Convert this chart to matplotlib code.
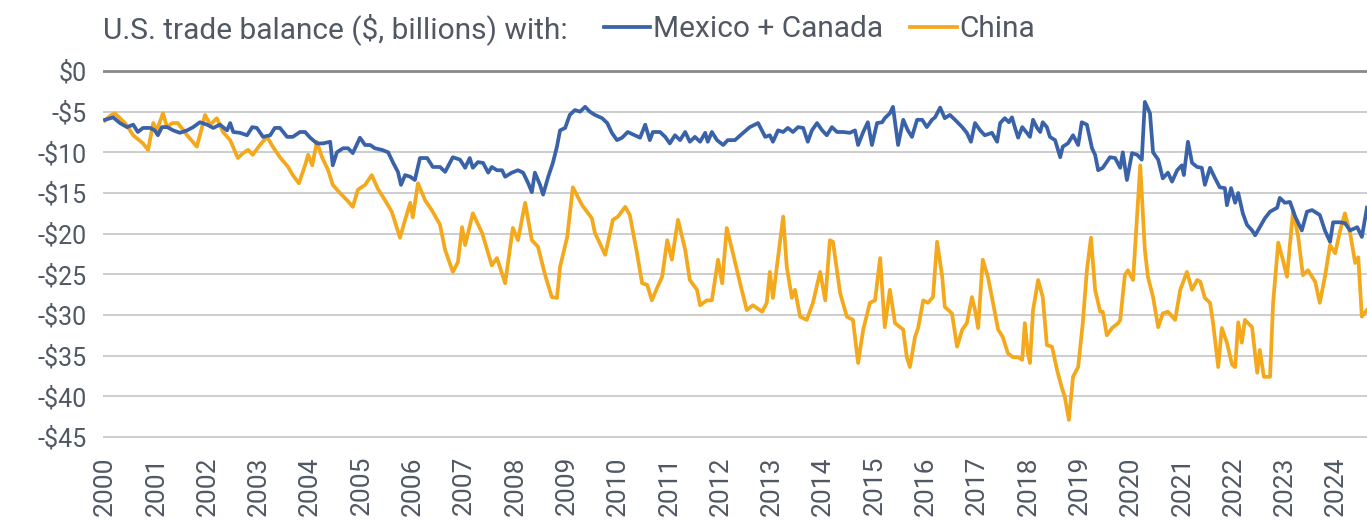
import matplotlib
matplotlib.use("Agg")
import matplotlib.pyplot as plt
from matplotlib import font_manager

# ---------------- data ----------------
china_t = [2000.00, 2000.10, 2000.19, 2000.39, 2000.55, 2000.74, 2000.84, 2000.94, 2001.01, 2001.13,
           2001.21, 2001.31, 2001.42, 2001.60, 2001.79, 2001.85, 2001.95, 2002.05, 2002.18, 2002.30,
           2002.44, 2002.59, 2002.69, 2002.79, 2002.88, 2003.02, 2003.16, 2003.27, 2003.41, 2003.57,
           2003.66, 2003.78, 2003.90, 2003.96, 2004.04, 2004.13, 2004.23, 2004.35, 2004.44, 2004.58,
           2004.72, 2004.83, 2004.93, 2005.07, 2005.20, 2005.32, 2005.46, 2005.59, 2005.75, 2005.85,
           2005.95, 2006.00, 2006.10, 2006.24, 2006.37, 2006.53, 2006.63, 2006.78, 2006.88, 2006.96,
           2007.02, 2007.17, 2007.35, 2007.54, 2007.64, 2007.80, 2007.95, 2008.05, 2008.19, 2008.32,
           2008.44, 2008.58, 2008.71, 2008.81, 2008.87, 2009.01, 2009.12, 2009.30, 2009.49, 2009.55,
           2009.75, 2009.90, 2010.00, 2010.14, 2010.23, 2010.37, 2010.47, 2010.57, 2010.66, 2010.76,
           2010.86, 2010.96, 2011.05, 2011.17, 2011.31, 2011.40, 2011.54, 2011.60, 2011.73, 2011.83,
           2011.95, 2012.03, 2012.12, 2012.24, 2012.38, 2012.51, 2012.63, 2012.81, 2012.90, 2012.96,
           2013.02, 2013.22, 2013.29, 2013.39, 2013.45, 2013.55, 2013.68, 2013.80, 2013.94, 2014.04,
           2014.13, 2014.19, 2014.33, 2014.46, 2014.58, 2014.68, 2014.78, 2014.91, 2015.01, 2015.11,
           2015.20, 2015.30, 2015.40, 2015.56, 2015.63, 2015.69, 2015.79, 2015.85, 2015.95, 2016.04,
           2016.14, 2016.22, 2016.32, 2016.37, 2016.51, 2016.61, 2016.71, 2016.80, 2016.90, 2016.96,
           2017.02, 2017.11, 2017.21, 2017.31, 2017.41, 2017.50, 2017.60, 2017.70, 2017.80, 2017.88,
           2017.93, 2017.99, 2018.03, 2018.09, 2018.19, 2018.28, 2018.36, 2018.46, 2018.56, 2018.65,
           2018.71, 2018.79, 2018.87, 2018.97, 2019.06, 2019.14, 2019.22, 2019.30, 2019.40, 2019.45,
           2019.53, 2019.63, 2019.75, 2019.79, 2019.88, 2019.94, 2020.04, 2020.18, 2020.27, 2020.33,
           2020.43, 2020.53, 2020.62, 2020.72, 2020.86, 2020.96, 2021.09, 2021.19, 2021.29, 2021.35,
           2021.44, 2021.54, 2021.60, 2021.70, 2021.77, 2021.87, 2021.97, 2022.03, 2022.09, 2022.16,
           2022.22, 2022.36, 2022.46, 2022.51, 2022.59, 2022.71, 2022.77, 2022.87, 2022.96, 2023.04,
           2023.16, 2023.26, 2023.35, 2023.45, 2023.59, 2023.68, 2023.78, 2023.88, 2023.98, 2024.07,
           2024.17, 2024.27, 2024.37, 2024.43, 2024.50, 2024.60]
china_v = [-6.1, -5.5, -5.2, -6.4, -7.9, -8.9, -9.7, -6.4, -7.3, -5.2,
           -6.9, -6.4, -6.4, -7.9, -9.3, -7.9, -5.4, -6.6, -5.8, -7.5,
           -8.5, -10.7, -10.1, -9.7, -10.3, -9.1, -8.1, -9.3, -10.6, -11.8,
           -12.8, -13.8, -11.6, -10.3, -11.6, -8.7, -10.6, -12.2, -14.0, -15.0,
           -15.9, -16.7, -14.6, -14.0, -12.8, -14.5, -15.9, -17.3, -20.5, -18.3,
           -16.2, -18.0, -13.8, -15.9, -17.1, -18.9, -22.0, -24.7, -23.5, -19.2,
           -21.4, -17.5, -19.9, -23.9, -23.0, -26.1, -19.3, -20.8, -16.2, -20.8,
           -21.6, -25.1, -27.8, -27.9, -24.1, -20.4, -14.3, -16.5, -18.1, -19.9,
           -22.6, -18.3, -17.9, -16.7, -17.7, -22.4, -26.1, -26.3, -28.2, -26.7,
           -25.3, -20.8, -23.2, -18.3, -22.0, -25.7, -26.9, -28.8, -28.2, -28.2,
           -23.2, -26.1, -19.3, -22.4, -26.1, -29.4, -28.8, -29.6, -28.5, -24.7,
           -27.9, -17.9, -24.1, -27.9, -26.9, -30.2, -30.6, -28.5, -24.7, -28.2,
           -20.8, -21.0, -27.3, -30.2, -30.6, -35.9, -31.8, -28.5, -28.2, -23.0,
           -31.5, -26.9, -31.0, -31.8, -35.2, -36.4, -32.7, -31.6, -28.2, -28.5,
           -27.8, -21.0, -25.3, -29.0, -29.8, -33.9, -31.8, -31.0, -27.8, -29.4,
           -31.6, -23.2, -25.3, -28.5, -31.8, -32.7, -34.7, -35.2, -35.2, -35.5,
           -31.0, -34.7, -35.9, -29.4, -25.7, -27.8, -33.7, -33.9, -36.8, -38.9,
           -40.1, -42.9, -37.6, -36.4, -31.0, -24.5, -20.5, -26.9, -29.6, -29.6,
           -32.5, -31.6, -31.0, -30.6, -25.1, -24.5, -25.7, -11.6, -22.0, -25.3,
           -27.8, -31.5, -29.8, -29.6, -30.6, -26.9, -24.7, -26.9, -25.7, -25.9,
           -27.9, -28.5, -31.0, -36.4, -31.6, -33.4, -36.1, -36.4, -30.9, -33.4,
           -30.6, -31.5, -37.1, -34.3, -37.6, -37.6, -28.5, -21.1, -23.2, -25.3,
           -17.1, -20.4, -25.1, -24.5, -25.9, -28.5, -25.3, -21.4, -22.4, -19.8,
           -17.5, -19.9, -23.6, -22.9, -30.2, -29.4]

mxca_t = [2000.00, 2000.16, 2000.29, 2000.43, 2000.55, 2000.64, 2000.74, 2000.88, 2000.97, 2001.03,
          2001.11, 2001.21, 2001.33, 2001.46, 2001.60, 2001.72, 2001.85, 2001.99, 2002.11, 2002.24,
          2002.38, 2002.44, 2002.50, 2002.63, 2002.77, 2002.87, 2002.96, 2003.08, 2003.22, 2003.31,
          2003.41, 2003.55, 2003.66, 2003.80, 2003.90, 2004.00, 2004.13, 2004.25, 2004.39, 2004.44,
          2004.52, 2004.64, 2004.74, 2004.83, 2004.97, 2005.07, 2005.17, 2005.26, 2005.40, 2005.52,
          2005.61, 2005.71, 2005.77, 2005.85, 2005.95, 2006.04, 2006.14, 2006.28, 2006.39, 2006.53,
          2006.63, 2006.78, 2006.92, 2007.02, 2007.11, 2007.17, 2007.27, 2007.37, 2007.47, 2007.54,
          2007.64, 2007.74, 2007.80, 2007.93, 2008.05, 2008.15, 2008.25, 2008.32, 2008.38, 2008.48,
          2008.54, 2008.64, 2008.73, 2008.81, 2008.87, 2008.97, 2009.06, 2009.16, 2009.26, 2009.36,
          2009.45, 2009.55, 2009.69, 2009.79, 2009.88, 2009.98, 2010.08, 2010.19, 2010.33, 2010.43,
          2010.53, 2010.62, 2010.68, 2010.82, 2010.92, 2011.01, 2011.11, 2011.21, 2011.31, 2011.40,
          2011.50, 2011.60, 2011.70, 2011.75, 2011.83, 2011.93, 2012.05, 2012.14, 2012.28, 2012.44,
          2012.57, 2012.73, 2012.87, 2012.96, 2013.02, 2013.12, 2013.22, 2013.31, 2013.41, 2013.51,
          2013.61, 2013.70, 2013.78, 2013.88, 2013.98, 2014.07, 2014.17, 2014.27, 2014.39, 2014.52,
          2014.62, 2014.68, 2014.78, 2014.87, 2014.95, 2015.05, 2015.15, 2015.20, 2015.30, 2015.36,
          2015.46, 2015.56, 2015.65, 2015.73, 2015.83, 2015.93, 2016.02, 2016.12, 2016.18, 2016.28,
          2016.37, 2016.47, 2016.57, 2016.71, 2016.80, 2016.88, 2016.96, 2017.06, 2017.15, 2017.29,
          2017.39, 2017.45, 2017.54, 2017.62, 2017.68, 2017.74, 2017.80, 2017.88, 2017.97, 2018.03,
          2018.09, 2018.17, 2018.23, 2018.28, 2018.36, 2018.42, 2018.52, 2018.62, 2018.67, 2018.77,
          2018.87, 2018.97, 2019.04, 2019.14, 2019.24, 2019.30, 2019.36, 2019.45, 2019.59, 2019.69,
          2019.79, 2019.84, 2019.92, 2020.02, 2020.12, 2020.21, 2020.27, 2020.37, 2020.43, 2020.53,
          2020.62, 2020.72, 2020.80, 2020.90, 2020.99, 2021.03, 2021.11, 2021.19, 2021.29, 2021.38,
          2021.44, 2021.54, 2021.64, 2021.73, 2021.83, 2021.87, 2021.95, 2022.03, 2022.09, 2022.18,
          2022.26, 2022.36, 2022.42, 2022.51, 2022.61, 2022.71, 2022.85, 2022.90, 2023.00, 2023.10,
          2023.20, 2023.33, 2023.43, 2023.53, 2023.63, 2023.68, 2023.78, 2023.88, 2023.94, 2024.07,
          2024.17, 2024.27, 2024.41, 2024.50, 2024.60]
mxca_v = [-6.0, -5.7, -6.4, -6.9, -6.6, -7.5, -7.0, -7.0, -7.3, -7.9,
          -6.9, -6.9, -7.3, -7.6, -7.3, -6.9, -6.3, -6.6, -7.0, -6.6,
          -7.3, -6.4, -7.5, -7.6, -7.9, -6.9, -7.0, -8.1, -7.9, -7.0,
          -7.0, -8.1, -8.1, -7.5, -7.5, -8.2, -8.9, -8.9, -8.7, -11.6,
          -10.0, -9.5, -9.5, -10.1, -8.2, -9.1, -9.1, -9.5, -9.7, -10.0,
          -11.2, -12.4, -14.0, -12.8, -13.0, -13.4, -10.7, -10.7, -11.8, -11.8,
          -12.4, -10.6, -10.9, -11.9, -10.7, -11.9, -11.2, -11.3, -12.5, -11.8,
          -12.2, -12.2, -13.0, -12.5, -12.2, -12.5, -13.8, -14.9, -12.5, -14.0,
          -15.2, -13.0, -11.3, -9.3, -7.3, -7.0, -5.4, -4.8, -5.0, -4.4,
          -5.0, -5.4, -5.8, -6.4, -7.6, -8.5, -8.2, -7.5, -7.9, -8.2,
          -6.6, -8.5, -7.5, -7.5, -8.1, -8.9, -7.9, -8.5, -7.5, -8.7,
          -8.1, -8.7, -7.6, -8.7, -7.5, -8.5, -9.1, -8.5, -8.5, -7.6,
          -6.9, -6.4, -8.1, -7.9, -8.7, -7.3, -7.5, -7.0, -7.5, -6.9,
          -7.0, -8.7, -7.3, -6.4, -7.3, -7.9, -6.9, -7.5, -7.5, -7.6,
          -7.3, -9.1, -7.5, -6.3, -9.1, -6.4, -6.3, -5.8, -5.2, -4.4,
          -9.1, -6.0, -7.3, -8.1, -6.0, -6.0, -6.9, -6.0, -5.7, -4.5,
          -5.8, -5.4, -6.0, -6.9, -7.6, -8.7, -6.4, -7.3, -7.9, -7.6,
          -8.7, -6.4, -5.8, -6.3, -5.7, -7.0, -8.2, -6.9, -7.6, -8.1,
          -6.0, -7.0, -7.5, -6.3, -6.9, -8.1, -8.5, -10.6, -9.3, -8.9,
          -7.9, -9.1, -6.3, -6.6, -9.5, -10.3, -12.2, -11.9, -10.6, -10.7,
          -11.9, -10.0, -13.4, -10.1, -10.3, -10.9, -3.8, -5.2, -10.0, -10.9,
          -13.2, -12.5, -13.6, -12.2, -11.6, -12.8, -8.7, -11.3, -11.8, -11.9,
          -14.0, -11.9, -13.2, -14.3, -14.4, -16.5, -14.4, -16.2, -15.0, -17.5,
          -18.9, -19.6, -20.2, -19.2, -18.1, -17.3, -16.8, -15.6, -16.2, -16.1,
          -17.9, -19.6, -17.3, -17.1, -17.5, -17.7, -19.6, -21.0, -18.6, -18.6,
          -18.7, -19.6, -19.2, -20.4, -16.8]

years = list(range(2000, 2025))
y_ticks = [0, -5, -10, -15, -20, -25, -30, -35, -40, -45]
y_labels = ["$0", "-$5", "-$10", "-$15", "-$20", "-$25", "-$30", "-$35", "-$40", "-$45"]
title_text = "U.S. trade balance ($, billions) with:"
series_names = ["Mexico + Canada", "China"]

# ---------------- style ----------------
avail = {f.name for f in font_manager.fontManager.ttflist}
fam = [f for f in ["Liberation Sans Narrow", "Roboto", "DejaVu Sans"] if f in avail]
plt.rcParams["font.family"] = fam
TXT = "#505863"
BLUE = "#3a62a8"
ORANGE = "#f4a81c"

W, H = 1367, 522
fig = plt.figure(figsize=(W / 100, H / 100), dpi=100)
fig.patch.set_facecolor("white")

# axes placement in pixels
ppu = (437 - 71) / 45.0
top_px = 71 - 0.3 * ppu
bot_px = 437 + 0.3 * ppu
left_px, right_px = 103, 1367
ax = fig.add_axes([left_px / W, 1 - bot_px / H, (right_px - left_px) / W, (bot_px - top_px) / H])
ax.set_ylim(-45.3, 0.3)
x0 = 2000 - 2 / 51.3
ax.set_xlim(x0, x0 + (right_px - left_px) / 51.3)

for v in y_ticks:
    if v == 0:
        ax.axhline(v, color="#8a8a8a", lw=2.0, zorder=1)
    else:
        ax.axhline(v, color="#cdcdcd", lw=1.4, zorder=1)

l1, = ax.plot(mxca_t, mxca_v, color=BLUE, lw=2.7, zorder=3, solid_joinstyle="round")
l2, = ax.plot(china_t, china_v, color=ORANGE, lw=2.7, zorder=2, solid_joinstyle="round")

for s in ax.spines.values():
    s.set_visible(False)
ax.set_yticks(y_ticks)
ax.set_yticklabels(y_labels)
ax.set_xticks(years)
ax.set_xticklabels([str(y) for y in years], rotation=90)
ax.tick_params(axis="both", length=0, labelcolor=TXT)
ax.tick_params(axis="y", pad=12, labelsize=18)
ax.tick_params(axis="x", pad=12, labelsize=19)

fig.text(103 / W, 1 - 29 / H, title_text, ha="left", va="center", fontsize=21.5, color=TXT)
fig.legend([l1, l2], series_names, loc="center left", bbox_to_anchor=(604 / W, 1 - 29 / H),
           ncol=2, frameon=False, fontsize=21.5, labelcolor=TXT, handlelength=1.55,
           handletextpad=0.1, columnspacing=0.9, borderaxespad=0, borderpad=0)

fig.savefig("out.png", dpi=100, facecolor="white")
